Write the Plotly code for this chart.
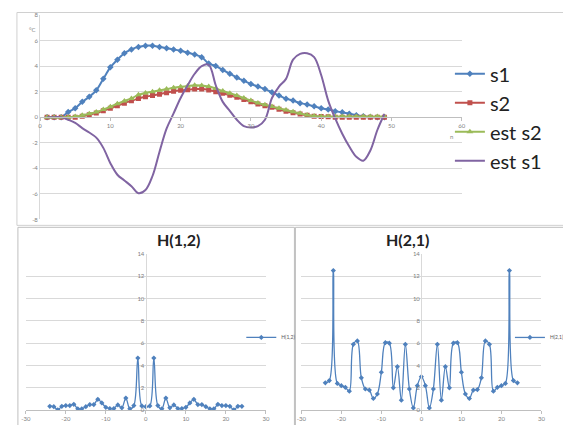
import plotly.graph_objects as go

# ---------------- data ----------------
n = list(range(1, 50))
s1 = [0, 0, 0, 0.4, 0.7, 1.2, 1.6, 2.1, 3.0, 3.9, 4.5, 5.0, 5.3, 5.5, 5.6, 5.6, 5.5, 5.4, 5.3, 5.2,
      5.05, 4.9, 4.7, 4.2, 4.0, 3.7, 3.4, 3.1, 2.85, 2.6, 2.4, 2.2, 1.95, 1.7, 1.45, 1.3, 1.1, 1.0, 0.85, 0.7,
      0.6, 0.47, 0.38, 0.27, 0.16, 0.08, 0.02, 0, 0]
s2 = [0, 0, 0, 0, 0, 0.08, 0.2, 0.33, 0.5, 0.7, 0.9, 1.1, 1.28, 1.46, 1.6, 1.7, 1.8, 1.92, 2.03, 2.1,
      2.15, 2.2, 2.2, 2.13, 2.0, 1.87, 1.72, 1.56, 1.38, 1.2, 1.03, 0.9, 0.77, 0.62, 0.47, 0.35, 0.25, 0.15, 0.08, 0.05,
      0.03, 0, 0, 0, 0, 0, 0, 0, 0]
est_s2 = [0, 0, 0, 0, 0.05, 0.15, 0.27, 0.4, 0.6, 0.82, 1.05, 1.27, 1.47, 1.75, 1.9, 2.0, 2.1, 2.2, 2.3, 2.38,
          2.45, 2.5, 2.48, 2.4, 2.25, 2.05, 1.88, 1.7, 1.5, 1.3, 1.12, 0.97, 0.83, 0.7, 0.57, 0.43, 0.3, 0.18, 0.1, 0.06,
          0.05, 0.05, 0.05, 0.05, 0.05, 0.05, 0.05, 0.05, 0.05]
est_s1 = [0, 0, 0, -0.2, -0.45, -0.85, -1.2, -1.6, -2.4, -3.6, -4.5, -4.95, -5.4, -5.95, -5.7, -4.6, -2.7, -0.9, 0.3, 1.5,
          2.5, 3.4, 4.0, 4.1, 2.5, 1.2, 0.5, -0.2, -0.7, -0.8, -0.7, -0.2, 1.5, 2.4, 3.0, 4.5, 4.95, 5.0, 4.7, 3.3,
          1.3, -0.1, -1.3, -2.3, -3.1, -3.4, -2.6, -1.0, 0.25]

k = list(range(-24, 25))
h12 = [0.35, 0.32, 0.03, 0.35, 0.41, 0.41, 0.53, 0.12, 0.12, 0.32, 0.5, 0.5, 0.97, 0.65, 0.26, 0.15, 0.15, 0.47, 0.21, 1.09,
       0.12, 0.41, 4.67, 0.38, 0.32, 0.38, 4.67, 0.41, 0.12, 1.09, 0.21, 0.47, 0.15, 0.15, 0.26, 0.65, 0.97, 0.5, 0.5, 0.32,
       0.12, 0.12, 0.53, 0.41, 0.41, 0.35, 0.03, 0.35, 0.35]
h21 = [2.45, 2.65, 12.5, 2.4, 2.2, 2.05, 1.7, 5.9, 6.2, 2.9, 1.9, 1.8, 1.05, 1.45, 3.4, 6.05, 6.0, 2.0, 3.9, 0.9,
       5.9, 1.9, 0.2, 2.2, 3.0, 2.2, 0.2, 1.9, 5.9, 0.9, 3.9, 2.0, 6.0, 6.05, 3.4, 1.45, 1.05, 1.8, 1.85, 2.9,
       6.2, 5.9, 1.7, 2.05, 2.2, 2.4, 12.5, 2.65, 2.45]

top_y_ticks = [-8, -6, -4, -2, 0, 2, 4, 6, 8]
top_y_text = ["-8", "-6", "-4", "-2", "0", "2", "4", "6", "8"]
top_x_ticks = [0, 10, 20, 30, 40, 50, 60]
bot_x_ticks = [-30, -20, -10, 0, 10, 20, 30]
bot_x_text = ["-30", "-20", "-10", "0", "10", "20", "30"]
bot_y_ticks = [0, 2, 4, 6, 8, 10, 12, 14]

# the page body has an 8px margin, so the figure is drawn 8px in from the window corner
OFF = 8
W, H = 571 - OFF, 425 - OFF
def px(x):
    return (x - OFF) / W
def py(y):
    return 1 - (y - OFF) / H

BLUE = "#4F81BD"
RED = "#C0504D"
GREEN = "#9BBB59"
PURPLE = "#8064A2"
GRID = "#D9D9D9"
TICK = "#7F7F7F"
FONT = "Lato"

fig = go.Figure()

fig.add_trace(go.Scatter(x=n, y=s1, name="s1", mode="lines+markers", line=dict(color=BLUE, width=2, shape="spline"),
                         marker=dict(symbol="diamond", size=5, color=BLUE), xaxis="x", yaxis="y", legend="legend"))
fig.add_trace(go.Scatter(x=n, y=s2, name="s2", mode="lines+markers", line=dict(color=RED, width=2, shape="spline"),
                         marker=dict(symbol="square", size=5, color=RED), xaxis="x", yaxis="y", legend="legend"))
fig.add_trace(go.Scatter(x=n, y=est_s2, name="est s2", mode="lines+markers", line=dict(color=GREEN, width=2, shape="spline"),
                         marker=dict(symbol="triangle-up", size=6, color=GREEN), xaxis="x", yaxis="y", legend="legend"))
fig.add_trace(go.Scatter(x=n, y=est_s1, name="est s1", mode="lines", line=dict(color=PURPLE, width=2, shape="spline"),
                         xaxis="x", yaxis="y", legend="legend"))

fig.add_trace(go.Scatter(x=k, y=h12, name="H(1,2)", mode="lines+markers", line=dict(color=BLUE, width=1.3, shape="spline"),
                         marker=dict(symbol="diamond", size=4, color=BLUE), xaxis="x2", yaxis="y2", legend="legend2"))
fig.add_trace(go.Scatter(x=k, y=h21, name="H(2,1)", mode="lines+markers", line=dict(color=BLUE, width=1.3, shape="spline"),
                         marker=dict(symbol="diamond", size=4, color=BLUE), xaxis="x3", yaxis="y3", legend="legend3"))

tickfont = dict(family=FONT, size=6, color=TICK)

fig.update_layout(
    width=W, height=H, margin=dict(l=0, r=0, t=0, b=0),
    paper_bgcolor="white", plot_bgcolor="white", showlegend=True,
    font=dict(family=FONT),
    # top chart
    xaxis=dict(domain=[px(35.5), px(464)], range=[0, 60], anchor="free", position=py(115),
               tickvals=top_x_ticks, tickfont=tickfont, showgrid=False, zeroline=False,
               showline=True, linecolor="#BFBFBF", linewidth=1, ticks="outside", ticklen=3, tickcolor="#BFBFBF"),
    yaxis=dict(domain=[py(219), py(11)], range=[-8, 8], anchor="x", tickvals=top_y_ticks, ticktext=top_y_text,
               tickfont=tickfont, showgrid=True, gridcolor=GRID, gridwidth=1, zeroline=False,
               showline=True, linecolor="#D9D9D9", linewidth=1),
    # bottom left
    xaxis2=dict(domain=[px(21), px(265)], range=[-30, 30], anchor="y2", tickvals=bot_x_ticks, ticktext=bot_x_text,
                tickfont=tickfont, showgrid=False, zeroline=False, showline=True, linecolor="#BFBFBF", linewidth=1,
                ticks="outside", ticklen=3, tickcolor="#BFBFBF"),
    yaxis2=dict(domain=[py(413), py(254)], range=[0, 14], anchor="free", position=px(142.7), tickvals=bot_y_ticks,
                tickfont=tickfont, showgrid=True, gridcolor=GRID, zeroline=False, showline=True,
                linecolor="#D9D9D9", linewidth=1),
    # bottom right
    xaxis3=dict(domain=[px(301), px(545)], range=[-30, 30], anchor="y3", tickvals=bot_x_ticks, ticktext=bot_x_text,
                tickfont=tickfont, showgrid=False, zeroline=False, showline=True, linecolor="#BFBFBF", linewidth=1,
                ticks="outside", ticklen=3, tickcolor="#BFBFBF"),
    yaxis3=dict(domain=[py(413), py(254)], range=[0, 14], anchor="free", position=px(422.7), tickvals=bot_y_ticks,
                tickfont=tickfont, showgrid=True, gridcolor=GRID, zeroline=False, showline=True,
                linecolor="#D9D9D9", linewidth=1),
    legend=dict(x=px(452), y=py(115), xanchor="left", yanchor="middle", font=dict(family=FONT, size=20, color="#222222"),
                bgcolor="rgba(0,0,0,0)", itemwidth=30),
    legend2=dict(x=px(240), y=py(339), xanchor="left", yanchor="middle", font=dict(family=FONT, size=5, color="#595959"),
                 bgcolor="rgba(0,0,0,0)"),
    legend3=dict(x=px(513), y=py(339), xanchor="left", yanchor="middle", font=dict(family=FONT, size=5, color="#595959"),
                 bgcolor="rgba(0,0,0,0)"),
)

# chart borders
shapes = [
    dict(type="rect", xref="paper", yref="paper", x0=px(12), x1=px(580), y0=py(225), y1=py(8.5),
         line=dict(color="#D0D0D0", width=1)),
    dict(type="rect", xref="paper", yref="paper", x0=px(13), x1=px(294), y0=py(440), y1=py(227),
         line=dict(color="#BFBFBF", width=1)),
    dict(type="rect", xref="paper", yref="paper", x0=px(295), x1=px(590), y0=py(440), y1=py(227),
         line=dict(color="#BFBFBF", width=1)),
]
fig.update_layout(shapes=shapes)

annotations = [
    dict(text="°C", xref="paper", yref="paper", x=px(22), y=py(20), showarrow=False, font=dict(family=FONT, size=6, color=TICK)),
    dict(text="n", xref="paper", yref="paper", x=px(457), y=py(129), showarrow=False, font=dict(family=FONT, size=6, color=TICK)),
    dict(text="<b>H(1,2)</b>", xref="paper", yref="paper", x=px(152), y=py(239.5), showarrow=False,
         font=dict(family=FONT, size=16, color="#222222")),
    dict(text="<b>H(2,1)</b>", xref="paper", yref="paper", x=px(433), y=py(239.5), showarrow=False,
         font=dict(family=FONT, size=16, color="#222222")),
]
fig.update_layout(annotations=annotations)

fig.write_html("out.html")
